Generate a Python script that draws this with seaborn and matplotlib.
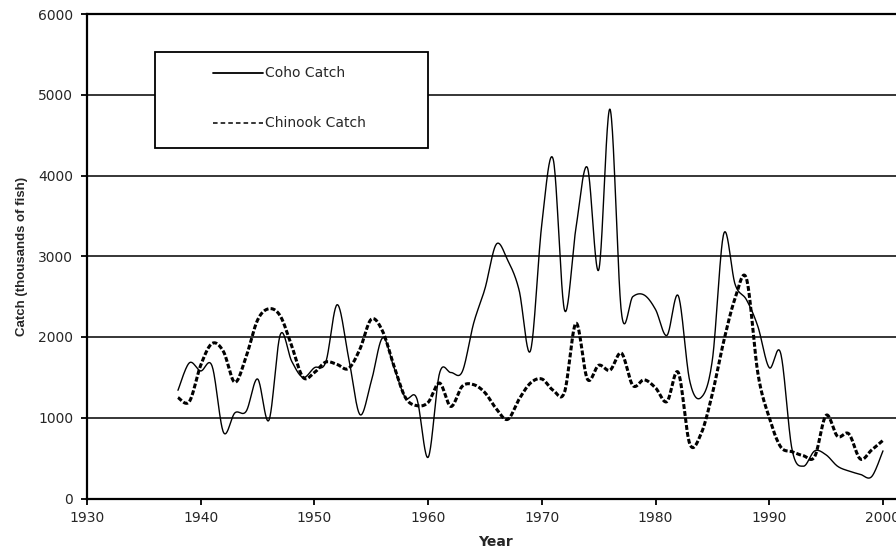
import numpy as np
import pandas as pd
import matplotlib
matplotlib.use("Agg")
import matplotlib.pyplot as plt
import seaborn as sns
from matplotlib.patches import Rectangle
from matplotlib.lines import Line2D

# ---------------- data (annual catch, thousands of fish) ----------------
years = list(range(1938, 2001))
coho_catch = [1340, 1680, 1580, 1640, 820, 1060, 1080, 1480, 970, 2030,
              1700, 1500, 1620, 1690, 2400, 1750, 1040, 1450, 1990, 1620,
              1250, 1240, 510, 1550, 1560, 1570, 2170, 2600, 3150, 2950,
              2580, 1830, 3400, 4200, 2330, 3350, 4100, 2830, 4820, 2300,
              2500, 2520, 2340, 2020, 2510, 1460, 1250, 1720, 3280, 2650,
              2460, 2130, 1620, 1800, 610, 400, 590, 540, 400, 340,
              300, 270, 590]
chinook_catch = [1250, 1200, 1650, 1920, 1820, 1440, 1760, 2210, 2350, 2260,
                 1890, 1500, 1560, 1690, 1660, 1610, 1850, 2220, 2070, 1640,
                 1250, 1150, 1190, 1430, 1140, 1390, 1410, 1310, 1110, 980,
                 1230, 1430, 1480, 1340, 1320, 2170, 1480, 1650, 1590, 1800,
                 1400, 1470, 1370, 1200, 1560, 680, 800, 1300, 1950, 2480,
                 2720, 1550, 1000, 640, 580, 530, 520, 1030, 770, 800,
                 490, 600, 720]
series_names = ["Coho Catch", "Chinook Catch"]
x_ticks = [1930, 1940, 1950, 1960, 1970, 1980, 1990, 2000]
y_ticks = [0, 1000, 2000, 3000, 4000, 5000, 6000]


def smooth_curve(x, y, n=24):
    """Bezier (Catmull-Rom) smoothing like a spreadsheet 'smoothed line'."""
    P = np.column_stack([np.asarray(x, float), np.asarray(y, float)])
    out = []
    t = np.linspace(0, 1, n, endpoint=False)[:, None]
    for i in range(len(P) - 1):
        p0 = P[i - 1] if i > 0 else P[i]
        p1, p2 = P[i], P[i + 1]
        p3 = P[i + 2] if i + 2 < len(P) else P[i + 1]
        c1 = p1 + (p2 - p0) / 6.0
        c2 = p2 - (p3 - p1) / 6.0
        b = ((1 - t) ** 3) * p1 + 3 * ((1 - t) ** 2) * t * c1 + 3 * (1 - t) * t ** 2 * c2 + t ** 3 * p2
        out.append(b)
    out.append(P[-1][None, :])
    out = np.vstack(out)
    return out[:, 0], out[:, 1]


sns.set_theme(style="white")
plt.rcParams["font.family"] = ["DejaVu Sans"]

W, H = 896, 548
fig = plt.figure(figsize=(W / 100, H / 100), dpi=100)
ax_left, ax_right, ax_top, ax_bot = 87, 896, 14, 498.5
ax = fig.add_axes([ax_left / W, (H - ax_bot) / H, (ax_right - ax_left) / W, (ax_bot - ax_top) / H])

frames = []
for name, vals in zip(series_names, [coho_catch, chinook_catch]):
    sx, sy = smooth_curve(years, vals)
    frames.append(pd.DataFrame({"Year": sx, "Catch": sy, "Series": name}))
df = pd.concat(frames, ignore_index=True)

sns.lineplot(data=df[df.Series == "Coho Catch"], x="Year", y="Catch", ax=ax,
             color="black", lw=1.0, sort=False, estimator=None, zorder=3)
sns.lineplot(data=df[df.Series == "Chinook Catch"], x="Year", y="Catch", ax=ax,
             color="black", lw=2.2, linestyle=(0, (1.6, 0.7)), sort=False,
             estimator=None, zorder=3)

ax.set_xlim(1930, 1930 + (ax_right - ax_left) / 11.371)
ax.set_ylim(0, 6000)
ax.set_xticks(x_ticks)
ax.set_yticks(y_ticks)
ax.set_xticklabels([str(v) for v in x_ticks], fontsize=10)
ax.set_yticklabels([str(v) for v in y_ticks], fontsize=10)
ax.tick_params(axis="both", direction="out", length=4, width=1.3, color="black",
               bottom=True, left=True)
ax.tick_params(axis="y", pad=6)
ax.tick_params(axis="x", pad=5)

ax.grid(axis="y", color="black", lw=1.1)
ax.grid(axis="x", visible=False)
for s in ["left", "bottom", "top"]:
    ax.spines[s].set_visible(True)
    ax.spines[s].set_color("black")
    ax.spines[s].set_linewidth(1.6)
ax.spines["right"].set_visible(False)

ax.set_xlabel("Year", fontsize=10, fontweight="bold")
ax.set_ylabel("Catch (thousands of fish)", fontsize=9.5, fontweight="bold",
              family=["Liberation Sans", "DejaVu Sans"])
ax.xaxis.set_label_coords((495 - ax_left) / (ax_right - ax_left), (ax_bot - 535) / (ax_bot - ax_top))
ax.yaxis.set_label_coords((28 - ax_left) / (ax_right - ax_left), 0.5)
if ax.get_legend() is not None:
    ax.get_legend().remove()

# legend box (manual, spreadsheet style)
def fx(px):
    return px / W


def fy(py):
    return (H - py) / H


fig.add_artist(Rectangle((fx(155), fy(148)), fx(428) - fx(155), fy(52) - fy(148),
                         transform=fig.transFigure, facecolor="white",
                         edgecolor="black", lw=1.3, zorder=5))
fig.add_artist(Line2D([fx(213), fx(263)], [fy(73), fy(73)], transform=fig.transFigure,
                      color="black", lw=1.3, zorder=6))
fig.add_artist(Line2D([fx(213), fx(263)], [fy(123), fy(123)], transform=fig.transFigure,
                      color="black", lw=1.1, linestyle=(0, (3.0, 2.0)), zorder=6))
fig.text(fx(265), fy(73), series_names[0], fontsize=10, va="center", ha="left", zorder=7)
fig.text(fx(265), fy(123), series_names[1], fontsize=10, va="center", ha="left", zorder=7)

fig.savefig("out.png", dpi=100)
